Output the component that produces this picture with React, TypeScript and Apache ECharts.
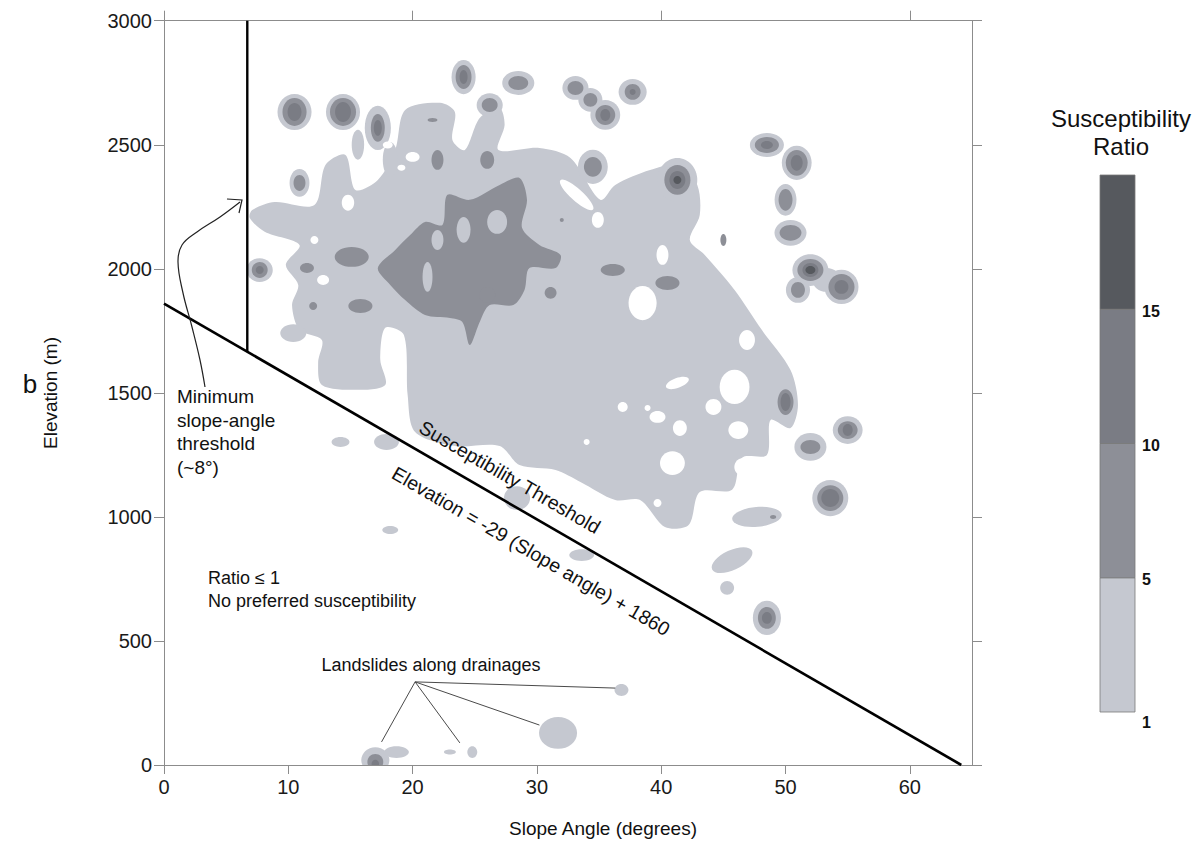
import React, { useEffect, useRef } from 'react';
import * as echarts from 'echarts';

const FONT = '"Liberation Sans", Arial, Helvetica, sans-serif';

// ---- axes ----
const X_MIN = 0;
const X_MAX = 65;
const Y_MIN = 0;
const Y_MAX = 3000;
const X_TICKS = [0, 10, 20, 30, 40, 50, 60];
const X_TOP_TICKS = [0, 20, 40, 60];
const Y_TICKS = [0, 500, 1000, 1500, 2000, 2500, 3000];

// ---- threshold lines ----
const THRESHOLD_SLOPE = -29;
const THRESHOLD_INTERCEPT = 1860;
const MIN_SLOPE_ANGLE = 6.7;

// ---- level colours (ratio 1-5, 5-10, 10-15, >15) ----
const LEVEL_COLORS = ['#c5c8d0', '#8d8f97', '#7a7c84', '#56595e'];
const COLORBAR_LABELS = ['1', '5', '10', '15'];

// ---- contour shapes, in data units (slope angle, elevation) ----
const LIGHT_BODY: [number, number][] = [
  [7.1, 2237], [8.9, 2269], [12.1, 2257], [13.0, 2419], [14.6, 2459], [15.4, 2318], [17.2, 2358],
  [18.6, 2479], [19.4, 2640], [22.2, 2669], [23.4, 2632], [23.2, 2519], [24.2, 2479], [25.4, 2608],
  [27.0, 2648], [27.4, 2580], [26.9, 2479], [30.2, 2487], [32.7, 2447], [35.1, 2278], [36.3, 2338],
  [39.1, 2398], [41.5, 2419], [42.9, 2338], [43.1, 2217], [42.3, 2116], [43.5, 2056], [45.9, 1915],
  [48.1, 1753], [50.4, 1592], [51.0, 1451], [50.4, 1358], [48.8, 1391], [48.5, 1250], [46.5, 1238],
  [45.7, 1109], [43.1, 1100], [42.2, 967], [40.3, 959], [38.3, 1068], [36.3, 1068], [33.5, 1141],
  [31.5, 1189], [28.6, 1209], [27.0, 1286], [23.4, 1286], [20.2, 1342], [19.6, 1491], [19.3, 1733],
  [17.8, 1762], [17.4, 1633], [17.8, 1532], [15.4, 1512], [12.7, 1532], [12.4, 1624], [12.7, 1713],
  [10.9, 1753], [10.3, 1854], [10.8, 1935], [9.8, 2016], [10.9, 2096], [8.1, 2149], [6.9, 2205],
];

const MEDIUM_CORE: [number, number][] = [
  [17.2, 2003], [18.6, 2076], [19.8, 2136], [21.0, 2189], [22.4, 2177], [22.8, 2298], [24.6, 2278],
  [27.0, 2338], [28.6, 2366], [29.2, 2278], [28.8, 2165], [30.2, 2096], [31.9, 2056], [31.5, 2003],
  [29.4, 2003], [29.0, 1915], [28.1, 1854], [26.2, 1854], [25.4, 1786], [24.6, 1693], [24.0, 1786],
  [23.0, 1802], [21.0, 1814], [19.4, 1874], [18.2, 1935],
];

// ellipses: [slope, elevation, radius in degrees, radius in metres, rotation deg]
const LIGHT_BLOBS: number[][] = [
  [10.5, 2632, 1.37, 73], [14.4, 2632, 1.37, 73], [17.2, 2568, 1.05, 89], [24.1, 2773, 0.97, 69],
  [28.5, 2749, 1.29, 48], [26.2, 2660, 1.05, 48], [10.9, 2346, 0.8, 56], [7.7, 1995, 1.05, 48],
  [33.1, 2729, 1.05, 48], [35.5, 2620, 1.2, 60], [34.3, 2681, 0.97, 48], [37.7, 2713, 1.13, 52],
  [34.5, 2411, 1.2, 69], [41.3, 2358, 1.6, 89], [48.5, 2499, 1.37, 48], [50.9, 2427, 1.2, 69],
  [50.0, 2278, 0.88, 64], [50.4, 2145, 1.29, 52], [52.0, 1995, 1.45, 64], [54.5, 1927, 1.37, 69],
  [51.0, 1915, 0.97, 52], [53.3, 1955, 1.13, 48], [52.0, 1282, 1.29, 56], [55.0, 1350, 1.2, 56],
  [53.6, 1076, 1.45, 73], [47.7, 1000, 2.0, 40, 5], [45.7, 826, 1.77, 40, 25], [45.3, 714, 0.56, 28],
  [48.5, 593, 1.13, 69], [14.2, 1302, 0.72, 20], [17.9, 1302, 1.0, 32], [28.4, 1076, 1.05, 48],
  [33.6, 846, 1.0, 24], [18.2, 947, 0.64, 16], [36.8, 302, 0.56, 24], [31.7, 129, 1.53, 64],
  [24.8, 52, 0.4, 24], [23.0, 52, 0.48, 10], [18.7, 52, 1.0, 24], [17.0, 20, 1.13, 52],
  [10.4, 1741, 1.05, 36], [15.6, 2500, 0.5, 60], [18.2, 2440, 0.6, 70],
];

const WHITE_HOLES: number[][] = [
  [18.0, 2499, 0.4, 14], [20.0, 2451, 0.56, 20], [19.1, 2407, 0.32, 12], [14.8, 2266, 0.5, 32],
  [12.1, 2116, 0.32, 16], [12.8, 1955, 0.48, 20], [33.2, 2298, 1.77, 24, -42], [34.9, 2197, 0.48, 32],
  [40.1, 2056, 0.48, 40], [38.5, 1862, 1.13, 69], [36.9, 1443, 0.4, 20], [38.9, 1439, 0.24, 12],
  [39.7, 1403, 0.64, 24], [41.3, 1540, 0.97, 20, 20], [34.0, 1302, 0.24, 12], [44.2, 1443, 0.64, 32],
  [45.9, 1524, 1.2, 69], [41.5, 1358, 0.56, 32], [46.2, 1350, 0.8, 36], [40.9, 1217, 1.0, 48],
  [46.6, 1201, 0.72, 36], [46.9, 1713, 0.64, 40], [39.7, 1056, 0.32, 16],
];

const MEDIUM_HOLES: number[][] = [
  [24.1, 2157, 0.56, 52], [26.8, 2189, 0.8, 48], [22.0, 2116, 0.48, 40], [21.2, 1967, 0.4, 60],
];

const MEDIUM_BLOBS: number[][] = [
  [10.5, 2632, 0.97, 56], [14.4, 2632, 1.05, 56], [17.2, 2568, 0.56, 56], [24.1, 2773, 0.64, 48],
  [28.5, 2749, 0.8, 28], [26.2, 2660, 0.64, 28], [10.9, 2346, 0.48, 32], [7.7, 1995, 0.64, 32],
  [33.1, 2729, 0.64, 28], [35.5, 2620, 0.8, 40], [34.3, 2681, 0.56, 28], [37.7, 2713, 0.64, 32],
  [34.5, 2411, 0.72, 40], [41.3, 2358, 1.05, 60], [48.5, 2499, 0.97, 32], [50.9, 2427, 0.88, 52],
  [50.0, 2278, 0.56, 44], [50.4, 2145, 0.88, 32], [52.0, 1995, 1.05, 44], [54.5, 1927, 1.05, 52],
  [51.0, 1915, 0.56, 32], [52.0, 1282, 0.8, 28], [55.0, 1350, 0.8, 36], [53.6, 1076, 1.05, 52],
  [48.5, 593, 0.72, 44], [15.1, 2048, 1.37, 40], [11.5, 2003, 0.56, 20], [12.0, 1850, 0.32, 16],
  [15.8, 1850, 0.97, 28], [21.6, 2600, 0.4, 8], [22.0, 2439, 0.48, 40], [26.0, 2439, 0.56, 36],
  [31.1, 1903, 0.48, 24], [36.1, 1995, 0.97, 24], [40.5, 1943, 0.97, 28], [45.0, 2116, 0.24, 24],
  [32.0, 2197, 0.16, 8], [50.0, 1463, 0.64, 52], [49.0, 1000, 0.25, 8], [17.0, 12, 0.64, 32],
  [26.0, 1894, 0.64, 32],
];

const DARK_BLOBS: number[][] = [
  [10.5, 2632, 0.56, 36], [14.4, 2632, 0.64, 40], [17.2, 2568, 0.32, 32], [24.1, 2773, 0.32, 28],
  [7.7, 1995, 0.32, 16], [35.5, 2620, 0.4, 24], [37.7, 2713, 0.24, 12], [41.3, 2358, 0.64, 36],
  [48.5, 2499, 0.48, 16], [50.9, 2427, 0.48, 32], [52.0, 1995, 0.64, 28], [54.5, 1927, 0.56, 28],
  [55.0, 1350, 0.4, 24], [53.6, 1076, 0.72, 36], [48.5, 593, 0.4, 24], [50.0, 1463, 0.4, 36],
  [17.0, 5, 0.3, 16],
];

const DARKEST_BLOBS: number[][] = [
  [41.3, 2358, 0.32, 16], [52.0, 1995, 0.4, 16],
];

// ---- annotation leader lines (landslides along drainages) ----
const DRAIN_ORIGIN: [number, number] = [20.2, 335];
const DRAIN_ENDS: [number, number][] = [[17.5, 93], [23.8, 89], [30.2, 161], [36.3, 310]];

function pad(d: number[][]) {
  return d.map((r) => [r[0], r[1], r[2], r[3], r[4] ?? 0]);
}

function ellipseSeries(data: number[][], color: string, z: number) {
  return {
    type: 'custom',
    coordinateSystem: 'cartesian2d',
    xAxisIndex: 0,
    yAxisIndex: 0,
    clip: true,
    silent: true,
    z,
    data: pad(data),
    encode: { x: 0, y: 1 },
    renderItem: (_p: any, api: any) => {
      const c = api.coord([api.value(0), api.value(1)]);
      const s = api.size([api.value(2), api.value(3)]);
      const rot = ((api.value(4) || 0) * Math.PI) / 180;
      return {
        type: 'ellipse',
        x: c[0],
        y: c[1],
        rotation: rot,
        shape: { cx: 0, cy: 0, rx: s[0], ry: s[1] },
        style: { fill: color },
      };
    },
  };
}

function polygonSeries(points: [number, number][], color: string, z: number) {
  return {
    type: 'custom',
    coordinateSystem: 'cartesian2d',
    xAxisIndex: 0,
    yAxisIndex: 0,
    clip: true,
    silent: true,
    z,
    data: [points[0]],
    encode: { x: 0, y: 1 },
    renderItem: (_p: any, api: any) => ({
      type: 'polygon',
      shape: { points: points.map((p) => api.coord(p)), smooth: 0.3 },
      style: { fill: color },
    }),
  };
}

const AXIS_COLOR = '#8c8c8c';

function buildOption() {
  const axisBase = {
    type: 'value',
    splitLine: { show: false },
    axisLine: { show: true, onZero: false, lineStyle: { color: AXIS_COLOR, width: 1 } },
  };
  const xEnd = -THRESHOLD_INTERCEPT / THRESHOLD_SLOPE;
  const yAtMin = THRESHOLD_SLOPE * MIN_SLOPE_ANGLE + THRESHOLD_INTERCEPT;

  // colorbar geometry
  const cbTop = 175;
  const cbBottom = 712;
  const cbLeft = 1100;
  const cbWidth = 35;
  const bands = LEVEL_COLORS.length;
  const bandH = (cbBottom - cbTop) / bands;
  const colorbar: any[] = [];
  LEVEL_COLORS.forEach((c, i) => {
    colorbar.push({
      type: 'rect',
      shape: { x: cbLeft, y: cbBottom - (i + 1) * bandH, width: cbWidth, height: bandH },
      style: { fill: c, stroke: '#7a7a7a', lineWidth: 0.8 },
    });
  });
  COLORBAR_LABELS.forEach((t, i) => {
    colorbar.push({
      type: 'text',
      x: 1142,
      y: i === 0 ? cbBottom + 10 : cbBottom - i * bandH + 2,
      style: { text: t, fontFamily: FONT, fontSize: 16, fontWeight: 'bold', fill: '#111', align: 'left', verticalAlign: 'middle' },
    });
  });

  const rot = Math.atan2(
    (-THRESHOLD_SLOPE * 744.3) / (Y_MAX - Y_MIN),
    808 / (X_MAX - X_MIN)
  );

  const graphics: any[] = [
    {
      type: 'text',
      x: 30,
      y: 384,
      style: { text: 'b', fontFamily: FONT, fontSize: 26, fill: '#111', align: 'center', verticalAlign: 'middle' },
    },
    {
      type: 'text',
      x: 50,
      y: 393,
      rotation: Math.PI / 2,
      style: { text: 'Elevation (m)', fontFamily: FONT, fontSize: 19, fill: '#111', align: 'center', verticalAlign: 'middle' },
    },
    {
      type: 'text',
      x: 603,
      y: 828,
      style: { text: 'Slope Angle (degrees)', fontFamily: FONT, fontSize: 19, fill: '#111', align: 'center', verticalAlign: 'middle' },
    },
    {
      type: 'text',
      x: 510,
      y: 477,
      rotation: -rot,
      style: { text: 'Susceptibility Threshold', fontFamily: FONT, fontSize: 19.5, fill: '#111', align: 'center', verticalAlign: 'middle' },
    },
    {
      type: 'text',
      x: 531,
      y: 551,
      rotation: -rot,
      style: { text: 'Elevation = -29 (Slope angle) + 1860', fontFamily: FONT, fontSize: 19.5, fill: '#111', align: 'center', verticalAlign: 'middle' },
    },
    {
      type: 'text',
      x: 177,
      y: 385,
      style: {
        text: 'Minimum\nslope-angle\nthreshold\n(~8°)',
        fontFamily: FONT,
        fontSize: 19,
        lineHeight: 23.5,
        fill: '#111',
        align: 'left',
        verticalAlign: 'top',
      },
    },
    {
      type: 'text',
      x: 208,
      y: 566.5,
      style: {
        text: 'Ratio ≤ 1\nNo preferred susceptibility',
        fontFamily: FONT,
        fontSize: 18,
        lineHeight: 23,
        fill: '#111',
        align: 'left',
        verticalAlign: 'top',
      },
    },
    {
      type: 'text',
      x: 431,
      y: 665,
      style: { text: 'Landslides along drainages', fontFamily: FONT, fontSize: 18, fill: '#111', align: 'center', verticalAlign: 'middle' },
    },
    {
      type: 'polyline',
      shape: {
        points: [[205, 387], [200, 360], [192, 327], [183, 293], [178, 262], [182, 245], [197, 232], [220, 217], [240, 202]],
        smooth: 0.4,
      },
      style: { stroke: '#222', lineWidth: 1.2, fill: null },
    },
    {
      type: 'polyline',
      shape: { points: [[227, 199], [242, 200], [239, 213]] },
      style: { stroke: '#222', lineWidth: 1.2, fill: null },
    },
    {
      type: 'text',
      x: 1121,
      y: 118,
      style: { text: 'Susceptibility', fontFamily: FONT, fontSize: 24, fill: '#111', align: 'center', verticalAlign: 'middle' },
    },
    {
      type: 'text',
      x: 1121,
      y: 146,
      style: { text: 'Ratio', fontFamily: FONT, fontSize: 24, fill: '#111', align: 'center', verticalAlign: 'middle' },
    },
    ...colorbar,
  ].map((g) => ({ ...g, z: 100 }));

  return {
    animation: false,
    backgroundColor: '#ffffff',
    grid: { left: 164, top: 20.7, width: 808, height: 744.3, containLabel: false },
    xAxis: [
      {
        ...axisBase,
        position: 'bottom',
        min: X_MIN,
        max: X_MAX,
        interval: 10,
        axisTick: { show: true, inside: false, length: 9, customValues: X_TICKS, lineStyle: { color: AXIS_COLOR } },
        axisLabel: {
          show: true,
          customValues: X_TICKS,
          margin: 12,
          fontSize: 20,
          fontFamily: FONT,
          color: '#1a1a1a',
          formatter: (v: number) => (X_TICKS.includes(v) ? String(v) : ''),
        },
      },
      {
        ...axisBase,
        position: 'top',
        min: X_MIN,
        max: X_MAX,
        interval: 20,
        axisTick: { show: true, inside: false, length: 10, customValues: X_TOP_TICKS, lineStyle: { color: AXIS_COLOR } },
        axisLabel: { show: false },
      },
    ],
    yAxis: [
      {
        ...axisBase,
        position: 'left',
        min: Y_MIN,
        max: Y_MAX,
        interval: 500,
        axisTick: { show: true, inside: false, length: 10, customValues: Y_TICKS, lineStyle: { color: AXIS_COLOR } },
        axisLabel: {
          show: true,
          customValues: Y_TICKS,
          margin: 12,
          fontSize: 20,
          fontFamily: FONT,
          color: '#1a1a1a',
          formatter: (v: number) => String(v),
        },
      },
      {
        ...axisBase,
        position: 'right',
        min: Y_MIN,
        max: Y_MAX,
        interval: 500,
        axisTick: { show: true, inside: false, length: 10, customValues: Y_TICKS, lineStyle: { color: AXIS_COLOR } },
        axisLabel: { show: false },
      },
    ],
    series: [
      polygonSeries(LIGHT_BODY, LEVEL_COLORS[0], 1),
      ellipseSeries(LIGHT_BLOBS, LEVEL_COLORS[0], 2),
      ellipseSeries(WHITE_HOLES, '#ffffff', 3),
      polygonSeries(MEDIUM_CORE, LEVEL_COLORS[1], 4),
      ellipseSeries(MEDIUM_HOLES, LEVEL_COLORS[0], 5),
      ellipseSeries(MEDIUM_BLOBS, LEVEL_COLORS[1], 6),
      ellipseSeries(DARK_BLOBS, LEVEL_COLORS[2], 7),
      ellipseSeries(DARKEST_BLOBS, LEVEL_COLORS[3], 8),
      {
        type: 'line',
        xAxisIndex: 0,
        yAxisIndex: 0,
        z: 10,
        symbol: 'none',
        silent: true,
        data: [[0, THRESHOLD_INTERCEPT], [xEnd, 0]],
        lineStyle: { color: '#000', width: 2.6 },
      },
      {
        type: 'line',
        xAxisIndex: 0,
        yAxisIndex: 0,
        z: 10,
        symbol: 'none',
        silent: true,
        data: [[MIN_SLOPE_ANGLE, yAtMin], [MIN_SLOPE_ANGLE, Y_MAX]],
        lineStyle: { color: '#000', width: 2.4 },
      },
      {
        type: 'lines',
        coordinateSystem: 'cartesian2d',
        xAxisIndex: 0,
        yAxisIndex: 0,
        z: 10,
        silent: true,
        data: DRAIN_ENDS.map((e) => ({ coords: [DRAIN_ORIGIN, e] })),
        lineStyle: { color: '#4a4a4a', width: 1, opacity: 1, curveness: 0 },
      },
    ],
    graphic: graphics,
  };
}

export default function App() {
  const ref = useRef<HTMLDivElement>(null);
  useEffect(() => {
    if (!ref.current) return;
    const chart = echarts.init(ref.current, null, { renderer: 'svg' });
    chart.setOption(buildOption() as any);
    return () => chart.dispose();
  }, []);
  return (
    <div
      ref={ref}
      style={{ position: 'absolute', left: 0, top: 0, width: 1198, height: 851, background: '#fff' }}
    />
  );
}
